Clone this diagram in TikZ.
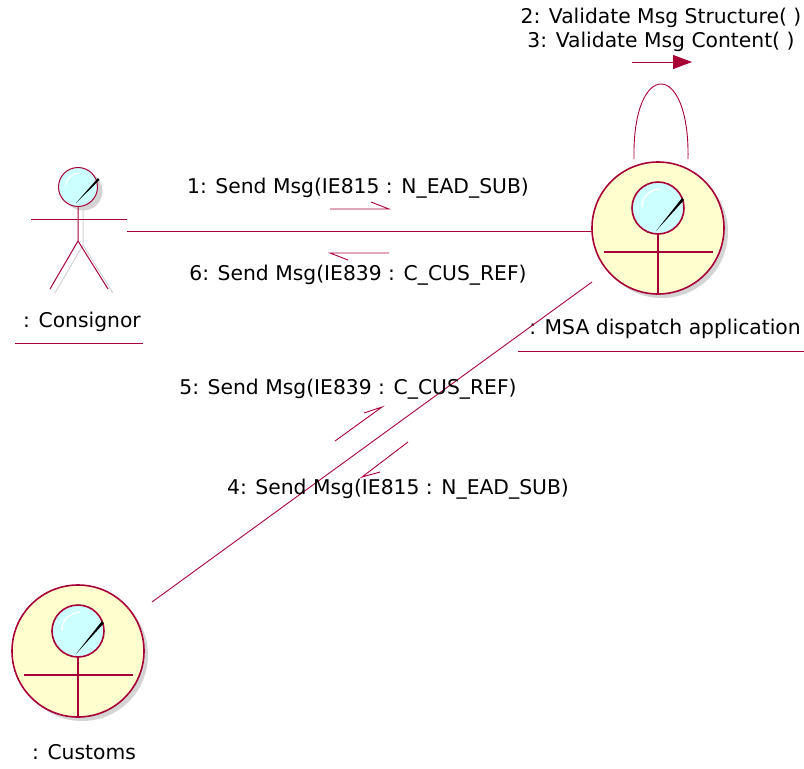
\documentclass[tikz,border=0pt]{standalone}
\usepackage{fontspec}
\setmainfont{DejaVu Sans}
\usetikzlibrary{arrows.meta,shadows}
\definecolor{umlred}{HTML}{A80036}
\definecolor{objfill}{HTML}{FEFECE}
\definecolor{headfill}{HTML}{CCFFFF}
\definecolor{shadowc}{HTML}{D4D4D4}
\tikzset{
  conn/.style={draw=umlred, line width=0.9pt},
  lbl/.style={font=\fontsize{20.3}{23.5}\selectfont, inner sep=0pt, text=black, align=center},
  ctrlobj/.style={circle, draw=umlred, line width=1.6pt, fill=objfill, minimum size=132pt, inner sep=0pt,
    drop shadow={shadow xshift=4pt, shadow yshift=-4pt, fill=shadowc, opacity=1}},
  actorbox/.style={minimum width=100pt, minimum height=125pt, inner sep=0pt},
  ctrlinner/.pic={
    \draw[umlred, line width=1.6pt, fill=headfill] (0,-20) circle (26pt);
    \draw[white, line width=1.4pt, line cap=round] (-16,-21) .. controls (-16,-32) and (-8,-38) .. (2,-39);
    \fill[black] (-2,3) -- (24,-30) -- (26,-28) -- cycle;
    \draw[umlred, line width=1.6pt] (-54,24) -- (55,24);
    \draw[umlred, line width=1.6pt] (0,6) -- (0,66);
  },
  actorpic/.pic={
    \begin{scope}[shift={(5,4)}]
      \draw[shadowc, line width=1pt] (0,18) -- (0,54) (0,54) -- (-28,102) (0,54) -- (30,102);
      \fill[shadowc] (0,0) circle (19.5pt);
    \end{scope}
    \draw[umlred, line width=1pt] (0,18) -- (0,54) (0,54) -- (-28,102) (0,54) -- (30,102);
    \draw[umlred, line width=1pt] (-47,32) -- (49,32);
    \draw[umlred, line width=1pt, fill=headfill] (0,0) circle (19.5pt);
    \draw[white, line width=1.1pt, line cap=round] (-12,-1) .. controls (-12,-9) and (-6,-13) .. (1,-14);
    \fill[black] (-2,16) -- (20,-9) -- (21.5,-7) -- cycle;
  }
}
\begin{document}
\begin{tikzpicture}[x=1pt,y=-1pt]
\useasboundingbox[fill=white] (0,0) rectangle (804,769);

% objects
\node[actorbox] (cons) at (78,230) {};
\path (78,187) pic {actorpic};
\node[ctrlobj] (msa) at (658,228) {};
\path (msa.center) pic {ctrlinner};
\node[ctrlobj] (cust) at (78,651) {};
\path (cust.center) pic {ctrlinner};

% object labels
\node[lbl] (consl) at (82,322) {: Consignor};
\draw[conn] (15,343) -- (143,343);
\node[lbl] (msal) at (665,329) {: MSA dispatch application};
\draw[conn] (518,351) -- (804,351);
\node[lbl] (custl) at (84,752) {: Customs};

% links
\coordinate (consR) at (127,231);
\coordinate (msaL) at (592,231);
\draw[conn] (consR) -- (msaL);
\coordinate (msaD) at (592,282);
\coordinate (custU) at (152,602);
\draw[conn] (msaD) -- (custU);
\coordinate (loopA) at (634,159);
\coordinate (loopB) at (688,159);
\draw[conn] (loopA) .. controls (632,59) and (690,59) .. (loopB);

% self message
\node[lbl] (m23) at (661,30) {2: Validate Msg Structure( )\\3: Validate Msg Content( )};
\coordinate (s1) at (632,62);
\coordinate (s2) at (692,62);
\draw[conn, -{Triangle[length=19pt,width=14pt]}] (s1) -- (s2);

% message 1
\node[lbl] (m1) at (358,188) {1: Send Msg(IE815 : N\_EAD\_SUB)};
\coordinate (a1s) at (330,209);
\coordinate (a1e) at (389,209);
\draw[conn] (a1s) -- (a1e) -- ++(-18,-7);
% message 6
\node[lbl] (m6) at (358,275) {6: Send Msg(IE839 : C\_CUS\_REF)};
\coordinate (a6s) at (389,253);
\coordinate (a6e) at (330,253);
\draw[conn] (a6s) -- (a6e) -- ++(18,7);
% message 5
\node[lbl] (m5) at (348,389) {5: Send Msg(IE839 : C\_CUS\_REF)};
\coordinate (a5s) at (335,441);
\coordinate (a5e) at (382,407);
\draw[conn] (a5s) -- (a5e) -- ++(-18,6);
% message 4
\node[lbl] (m4) at (398,489) {4: Send Msg(IE815 : N\_EAD\_SUB)};
\coordinate (a4s) at (408,442);
\coordinate (a4e) at (362,477);
\draw[conn] (a4s) -- (a4e) -- ++(18,-5);
\end{tikzpicture}
\end{document}
